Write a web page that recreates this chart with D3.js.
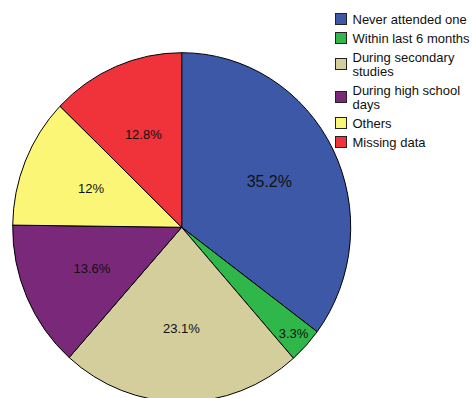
<!DOCTYPE html>
<html>
<head>
<meta charset="utf-8">
<script src="https://cdn.jsdelivr.net/npm/d3@7"></script>
<style>
  body { margin: 0; background: #fff; }
  svg { display: block; font-family: "Liberation Sans", Arial, Helvetica, sans-serif; }
</style>
</head>
<body>
<svg></svg>
<script>
const categories = ["Never attended one", "Within last 6 months", "During secondary studies", "During high school days", "Others", "Missing data"];
const legendLines = [["Never attended one"], ["Within last 6 months"], ["During secondary", "studies"], ["During high school", "days"], ["Others"], ["Missing data"]];
const values = [35.2, 3.3, 23.1, 13.6, 12, 12.8];
const colors = ["#3d58a7", "#2fb74a", "#d3ce9c", "#7a287a", "#fbf675", "#f0323b"];

const width = 472;
const height = 398;

// pie is drawn slightly taller than wide, like the original
const cx = 181.7;
const cy = 227.3;
const rx = 169;
const ry = 174.6;

const svg = d3.select("svg")
    .attr("width", width)
    .attr("height", height);

const data = categories.map((c, i) => ({ name: c, value: values[i], color: colors[i] }));

const pie = d3.pie()
    .sort(null)
    .value(d => d.value);

const arcs = pie(data);

const arc = d3.arc()
    .innerRadius(0)
    .outerRadius(rx);

const pieG = svg.append("g")
    .attr("transform", "translate(" + cx + "," + cy + ") scale(1," + (ry / rx) + ")");

pieG.selectAll("path")
    .data(arcs)
    .enter()
    .append("path")
    .attr("d", arc)
    .attr("fill", d => d.data.color)
    .attr("stroke", "#000")
    .attr("stroke-width", 1)
    .attr("vector-effect", "non-scaling-stroke");

//Labels sit at ~58% of the radius, small slices are pushed out near the edge
const maxVal = d3.max(values);
svg.selectAll("text.lbl")
    .data(arcs)
    .enter()
    .append("text")
    .attr("class", "lbl")
    .attr("x", d => {
        const a = (d.startAngle + d.endAngle) / 2;
        const f = d.data.value < 5 ? 0.9 : 0.58;
        return cx + rx * f * Math.sin(a);
    })
    .attr("y", d => {
        const a = (d.startAngle + d.endAngle) / 2;
        const f = d.data.value < 5 ? 0.9 : 0.58;
        return cy - ry * f * Math.cos(a);
    })
    .attr("text-anchor", "middle")
    .attr("dominant-baseline", "central")
    .attr("font-size", d => d.data.value === maxVal ? 16 : 13)
    .attr("fill", "#111")
    .text(d => d.data.value + "%");

// legend
const lineH = 14;
const gap = 5;
let yPos = 12;
const legend = svg.append("g");

legendLines.forEach((lines, i) => {
    const blockH = lines.length * lineH;
    const mid = yPos + blockH / 2;
    legend.append("rect")
        .attr("x", 335.5)
        .attr("y", mid - 5.5)
        .attr("width", 11)
        .attr("height", 11)
        .attr("fill", colors[i])
        .attr("stroke", "#222")
        .attr("stroke-width", 1);
    lines.forEach((t, j) => {
        legend.append("text")
            .attr("x", 352.5)
            .attr("y", yPos + j * lineH + lineH / 2)
            .attr("dominant-baseline", "central")
            .attr("font-size", 13)
            .attr("fill", "#111")
            .text(t);
    });
    yPos += blockH + gap;
});
</script>
</body>
</html>
